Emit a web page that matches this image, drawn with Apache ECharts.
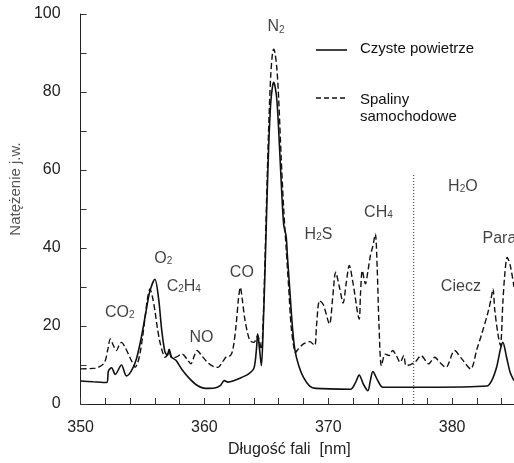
<!DOCTYPE html>
<html>
<head>
<meta charset="utf-8">
<script src="https://cdn.jsdelivr.net/npm/echarts@6/dist/echarts.min.js"></script>
<style>
html,body{margin:0;padding:0;background:#fff;}
#chart{width:514px;height:463px;}
</style>
</head>
<body>
<div id="chart"></div>
<script>
// Clean air (solid line)
const cleanX = [350.0,351.0,352.1,352.25,352.5,352.8,353.3,353.7,354.1,354.5,354.9,355.3,355.6,356.0,356.3,356.55,356.8,357.0,357.15,357.35,357.7,358.2,358.8,359.4,360.1,360.8,361.3,361.6,361.9,362.4,363.0,363.6,364.0,364.2,364.3,364.45,364.6,364.75,364.9,365.05,365.2,365.35,365.5,365.6,365.7,365.85,366.0,366.2,366.4,366.6,366.7,366.9,367.1,367.3,367.6,368.0,368.5,369.0,371.8,372.2,372.5,372.85,373.2,373.4,373.6,374.0,374.4,378.0,382.8,383.2,383.6,383.9,384.1,384.4,384.7,385.0];
const cleanY = [5.9,5.7,5.5,8.5,9.3,7.6,10.0,7.2,8.5,11.5,17,24,29,32,27,19,13.5,12.5,14,12,11.2,8.8,6.5,4.8,4.0,4.1,4.8,6.0,5.6,6.0,6.8,7.8,9.2,14,18,14,9.8,20,35,52,67,77,81.5,82.5,81.5,78,70,57,46,43,38,29,20,14,10,6.8,4.6,4.0,3.8,5.5,7.4,5,3.4,6,8.3,6,4.3,4.3,4.6,6,9.5,14,15.8,12,8,6];
// Car exhaust (dashed line)
const exhaustX = [350.0,351.2,351.9,352.2,352.4,352.65,352.9,353.1,353.3,353.6,353.9,354.2,354.4,354.6,354.8,355.0,355.2,355.4,355.6,355.8,356.0,356.2,356.4,356.6,356.8,357.0,357.15,357.35,357.7,358.2,358.6,358.9,359.2,359.4,359.8,360.3,360.8,361.1,361.5,361.8,362.1,362.3,362.55,362.75,362.9,363.05,363.25,363.5,363.7,364.0,364.3,364.45,364.6,364.75,364.9,365.05,365.2,365.35,365.5,365.6,365.7,365.85,366.0,366.2,366.4,366.6,366.8,367.0,367.2,367.35,367.6,368.0,368.5,368.9,369.05,369.3,369.6,370.1,370.35,370.6,370.9,371.2,371.45,371.7,372.0,372.5,372.6,372.75,373.0,373.2,373.4,373.6,373.8,373.95,374.1,374.3,374.6,374.9,375.2,375.5,375.8,376.1,376.3,377.0,377.5,378.1,378.6,379.0,379.5,380.2,380.8,381.5,382.0,382.4,382.9,383.15,383.3,383.45,383.7,383.9,384.1,384.25,384.45,384.7,385.0];
const exhaustY = [9.0,9.2,10.5,14,16.7,15,13.7,15,15.8,14.5,12.5,10.5,9.4,10.5,13,17,22,27,29.5,27.5,24,19.5,16,13.5,12,12.5,13.5,11.8,12.0,12.8,11.5,10.3,12.5,13.7,12.3,10.5,9.5,9.4,11,12.2,12.4,14,20,27,29.9,27,22,18,16.2,15.8,17.5,16,14,22,38,56,72,84,90,91,90,86,78,63,50,40,30,20,15,13.2,14.2,15.4,16,15,20,26.5,25.5,20.5,27,33.8,30,25.9,31,35.5,31,21.8,28,34.2,30.8,34,38,40.5,43.6,35,20,9.8,12.8,12.4,13.7,12.4,10.7,12.4,9.8,10.7,12.4,10.3,12.0,10.7,9.4,13.7,11.5,9.0,14,18,23.5,27,29.5,24,18,15,26,33,37.6,35.5,30];
// Dotted separator (liquid / vapour)
const separatorX = [376.9, 376.9];
const separatorY = [0, 59];
// Peak annotations
const annotText = ['CO{s|2}','O{s|2}','C{s|2}H{s|4}','NO','CO','N{s|2}','H{s|2}S','CH{s|4}','H{s|2}O','Ciecz','Para'];
const annotX = [353.17,356.67,358.33,359.76,363.02,365.79,369.21,374.05,380.87,380.71,382.46];
const annotY = [23.5,37.3,30.2,16.9,33.8,96.7,43.5,49.1,55.8,30.2,42.5];
// Tick labels
const xTickLabels = [350,360,370,380];
const yTickLabels = [0,20,40,60,80,100];

const FONT = 'Liberation Sans, Arial, Helvetica, sans-serif';
const pairs = (xs, ys) => xs.map((x, i) => [x, ys[i]]);

const chart = echarts.init(document.getElementById('chart'), null, {renderer: 'canvas'});
const annotData = annotX.map((x, i) => {
  const d = {value: [x, annotY[i]], label: {formatter: annotText[i]}};
  if (annotText[i] === 'Para') d.label.align = 'left';
  return d;
});

chart.setOption({
  animation: false,
  backgroundColor: '#fff',
  grid: {left: 73, right: 0, top: 14, bottom: 57},
  xAxis: {
    type: 'value', min: 350, max: 385, interval: 2,
    name: 'Długość fali  [nm]', nameLocation: 'middle', nameGap: 38,
    nameTextStyle: {fontFamily: FONT, fontSize: 16, color: '#222', padding: [0, 16, 0, 0]},
    axisLine: {show: true, lineStyle: {color: '#222', width: 1}},
    axisTick: {show: true, inside: true, length: 6, lineStyle: {color: '#333'}},
    axisLabel: {
      fontFamily: FONT, fontSize: 16, color: '#222', margin: 16, showMaxLabel: false,
      formatter: v => xTickLabels.indexOf(v) >= 0 ? String(v) : ''
    },
    splitLine: {show: false}
  },
  yAxis: {
    type: 'value', min: 0, max: 100, interval: 10,
    name: 'Natężenie j.w.', nameLocation: 'middle', nameGap: 50,
    nameTextStyle: {fontFamily: FONT, fontSize: 15, color: '#555', padding: [0, 0, 0, 40]},
    axisLine: {show: true, lineStyle: {color: '#222', width: 1}},
    axisTick: {show: true, inside: true, length: 6, lineStyle: {color: '#333'}},
    axisLabel: {
      fontFamily: FONT, fontSize: 16, color: '#222', margin: 20,
      formatter: v => yTickLabels.indexOf(v) >= 0 ? String(v) : ''
    },
    splitLine: {show: false}
  },
  series: [
    {
      name: 'Czyste powietrze', type: 'line', data: pairs(cleanX, cleanY),
      symbol: 'none', smooth: 0.3,
      lineStyle: {color: '#111', width: 1.6, type: 'solid'}
    },
    {
      name: 'Spaliny samochodowe', type: 'line', data: pairs(exhaustX, exhaustY),
      symbol: 'none', smooth: 0.3,
      lineStyle: {color: '#111', width: 1.4, type: [6, 3]}
    },
    {
      name: 'separator', type: 'line', data: pairs(separatorX, separatorY),
      symbol: 'none', lineStyle: {color: '#333', width: 1, type: [1, 2]}
    },
    {
      name: 'labels', type: 'scatter', data: annotData, symbolSize: 0,
      silent: true,
      label: {
        show: true, position: 'inside', fontFamily: FONT, fontSize: 16, color: '#111',
        rich: {
          s: {fontFamily: FONT, fontSize: 10, color: '#111', verticalAlign: 'bottom'}
        }
      }
    }
  ],
  graphic: [
    {type: 'line', shape: {x1: 316, y1: 50, x2: 347, y2: 50}, style: {stroke: '#111', lineWidth: 1.6}},
    {type: 'text', left: 360, top: 41, style: {text: 'Czyste powietrze', fontFamily: FONT, fontSize: 15, fill: '#111'}},
    {type: 'line', shape: {x1: 316, y1: 98, x2: 347, y2: 98}, style: {stroke: '#111', lineWidth: 1.4, lineDash: [5, 3]}},
    {type: 'text', left: 360, top: 91, style: {text: 'Spaliny\nsamochodowe', fontFamily: FONT, fontSize: 15, lineHeight: 17, fill: '#111'}}
  ]
});
</script>
</body>
</html>
